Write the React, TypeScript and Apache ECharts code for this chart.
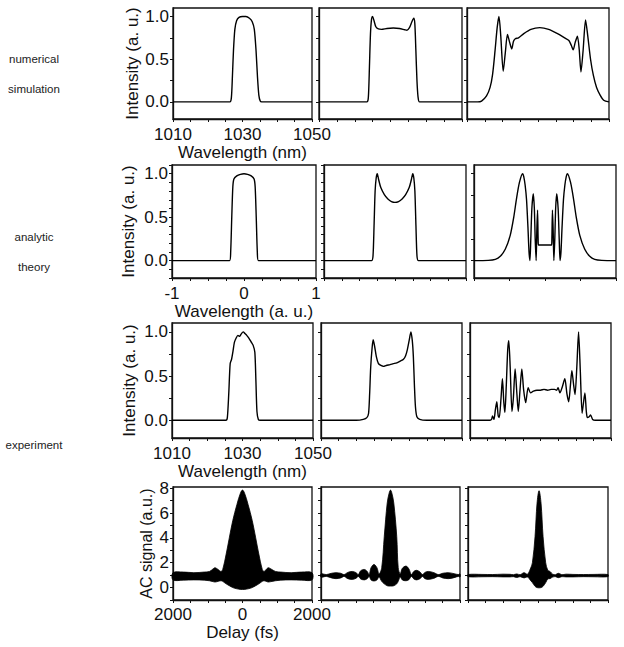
import React, { useEffect, useRef } from 'react';
import * as echarts from 'echarts';

// ---------- tick / label values ----------
const nmTicks = [1010, 1015, 1020, 1025, 1030, 1035, 1040, 1045, 1050];
const nmLabels = [1010, 1030, 1050];
const auTicksFine = [-1, -0.75, -0.5, -0.25, 0, 0.25, 0.5, 0.75, 1];
const auTicksCoarse = [-1, -0.5, 0, 0.5, 1];
const auLabels = [-1, 0, 1];
const delayTicks = [-2000, -1500, -1000, -500, 0, 500, 1000, 1500, 2000];
const delayLabels = [-2000, 0, 2000];
const intTicksQuarter = [0, 0.25, 0.5, 0.75, 1];
const intTicksTenth = [-0.2, -0.1, 0, 0.1, 0.2, 0.3, 0.4, 0.5, 0.6, 0.7, 0.8, 0.9, 1.0, 1.1];
const intLabels = [0, 0.5, 1];
const acTicks = [-1, 0, 1, 2, 3, 4, 5, 6, 7, 8];
const acLabels = [0, 2, 4, 6, 8];

const rowLabels = [
  { text: 'numerical', y: 59 },
  { text: 'simulation', y: 89 },
  { text: 'analytic', y: 237 },
  { text: 'theory', y: 267 },
  { text: 'experiment', y: 445 },
];

// ---------- spectra: [wavelength, intensity] ----------
const simSpec1 = [
  [1010, 0], [1024, 0], [1026.4, 0], [1026.8, 0.05], [1027.1, 0.3], [1027.4, 0.6], [1027.8, 0.85],
  [1028.3, 0.95], [1029, 0.99], [1030, 1.0], [1031, 1.0], [1032, 0.98], [1032.8, 0.94], [1033.4, 0.85],
  [1033.9, 0.6], [1034.3, 0.3], [1034.7, 0.08], [1035.1, 0.01], [1035.5, 0], [1037, 0], [1050, 0],
];
const simSpec2 = [
  [1010, 0], [1022, 0], [1023.4, 0], [1023.8, 0.05], [1024.1, 0.4], [1024.4, 0.8], [1024.7, 0.97],
  [1025.0, 1.0], [1025.4, 0.95], [1025.9, 0.88], [1026.6, 0.855], [1027.5, 0.85], [1029, 0.86],
  [1030.8, 0.865], [1032.5, 0.86], [1034, 0.845], [1034.6, 0.84], [1035.3, 0.87], [1035.9, 0.93],
  [1036.5, 0.98], [1036.8, 0.92], [1037.1, 0.6], [1037.4, 0.25], [1037.7, 0.06], [1038.1, 0],
  [1040, 0], [1050, 0],
];
const simSpec3 = [
  [1010, 0], [1013, 0], [1014.1, 0.01], [1015.5, 0.07], [1016.5, 0.17], [1017.2, 0.32], [1017.9, 0.6],
  [1018.5, 0.87], [1019.0, 1.0], [1019.5, 0.78], [1020.2, 0.36], [1020.8, 0.58], [1021.4, 0.79],
  [1022.0, 0.7], [1022.6, 0.62], [1023.1, 0.71], [1023.6, 0.74], [1024.5, 0.75], [1026, 0.8],
  [1028, 0.85], [1030.5, 0.87], [1033, 0.85], [1035.5, 0.8], [1037.5, 0.75], [1038.7, 0.72],
  [1039.4, 0.66], [1039.9, 0.61], [1040.5, 0.7], [1041.1, 0.77], [1041.6, 0.62], [1042.1, 0.35],
  [1042.7, 0.6], [1043.4, 0.96], [1044.0, 0.78], [1044.8, 0.5], [1045.6, 0.31], [1046.5, 0.17],
  [1047.5, 0.08], [1048.5, 0.02], [1050, 0],
];
const anaSpec1 = [
  [-1, 0], [-0.3, 0], [-0.2, 0], [-0.185, 0.1], [-0.17, 0.5], [-0.155, 0.85], [-0.14, 0.94],
  [-0.1, 0.975], [-0.05, 0.993], [0, 1.0], [0.05, 0.993], [0.1, 0.975], [0.14, 0.94],
  [0.155, 0.85], [0.17, 0.5], [0.185, 0.1], [0.2, 0], [0.3, 0], [1, 0],
];
const anaSpec2 = [
  [-1, 0], [-0.4, 0], [-0.33, 0], [-0.31, 0.05], [-0.295, 0.4], [-0.28, 0.8], [-0.265, 0.95],
  [-0.25, 1.0], [-0.23, 0.93], [-0.2, 0.84], [-0.15, 0.76], [-0.1, 0.71], [-0.05, 0.68], [0, 0.67],
  [0.05, 0.68], [0.1, 0.71], [0.15, 0.76], [0.2, 0.84], [0.23, 0.93], [0.25, 1.0], [0.265, 0.95],
  [0.28, 0.8], [0.295, 0.4], [0.31, 0.05], [0.33, 0], [0.4, 0], [1, 0],
];
const anaSpec3 = [
  [-1, 0], [-0.8, 0.003], [-0.7, 0.015], [-0.63, 0.05], [-0.56, 0.13], [-0.49, 0.29], [-0.44, 0.5],
  [-0.4, 0.72], [-0.36, 0.9], [-0.315, 1.0], [-0.3, 0.97], [-0.28, 0.87], [-0.26, 0.7], [-0.24, 0.38],
  [-0.225, 0.1], [-0.212, 0], [-0.2, 0.25], [-0.185, 0.6], [-0.165, 0.77], [-0.15, 0.6],
  [-0.138, 0.25], [-0.125, 0], [-0.115, 0.35], [-0.105, 0.58], [-0.097, 0.25], [-0.092, 0.18],
  [0, 0.18],
  [0.092, 0.18], [0.097, 0.25], [0.105, 0.58], [0.115, 0.35], [0.125, 0], [0.138, 0.25],
  [0.15, 0.6], [0.165, 0.77], [0.185, 0.6], [0.2, 0.25], [0.212, 0], [0.225, 0.1], [0.24, 0.38],
  [0.26, 0.7], [0.28, 0.87], [0.3, 0.97], [0.315, 1.0], [0.36, 0.9], [0.4, 0.72], [0.44, 0.5],
  [0.49, 0.29], [0.56, 0.13], [0.63, 0.05], [0.7, 0.015], [0.8, 0.003], [1, 0],
];
const expSpec1 = [
  [1010, 0], [1024, 0], [1025.3, 0], [1025.7, 0.03], [1026.1, 0.3], [1026.5, 0.64], [1026.9, 0.69],
  [1027.3, 0.78], [1027.7, 0.88], [1028.2, 0.93], [1028.7, 0.96], [1029.2, 0.95], [1029.7, 0.98],
  [1030.2, 1.0], [1030.7, 0.98], [1031.2, 0.96], [1031.8, 0.93], [1032.4, 0.89], [1033.0, 0.85],
  [1033.5, 0.77], [1033.8, 0.45], [1034.1, 0.1], [1034.5, 0.01], [1035, 0], [1037, 0], [1050, 0],
];
const expSpec2 = [
  [1010, 0], [1020, 0], [1022, 0.01], [1023.0, 0.03], [1023.5, 0.08], [1023.8, 0.3], [1024.1, 0.6],
  [1024.5, 0.82], [1024.8, 0.91], [1025.2, 0.84], [1025.7, 0.72], [1026.3, 0.64], [1027.0, 0.62],
  [1027.7, 0.61], [1028.5, 0.62], [1029.6, 0.63], [1030.5, 0.64], [1031.5, 0.65], [1032.5, 0.67],
  [1033.4, 0.69], [1034.0, 0.73], [1034.5, 0.8], [1035.0, 0.9], [1035.5, 1.0], [1035.9, 0.9],
  [1036.2, 0.72], [1036.5, 0.4], [1036.8, 0.15], [1037.2, 0.04], [1038, 0.01], [1040, 0], [1050, 0],
];
const expSpec3 = [
  [1010, 0], [1015.5, 0], [1016.1, 0.01], [1016.4, 0.05], [1016.8, 0.01], [1017.2, 0.12],
  [1017.6, 0.21], [1018.0, 0.05], [1018.3, 0.03], [1018.8, 0.25], [1019.2, 0.47], [1019.6, 0.2],
  [1019.9, 0.09], [1020.3, 0.4], [1020.7, 0.8], [1021.0, 0.9], [1021.4, 0.6], [1021.9, 0.1],
  [1022.3, 0.25], [1022.8, 0.58], [1023.3, 0.3], [1023.7, 0.1], [1024.2, 0.35], [1024.7, 0.58],
  [1025.2, 0.35], [1025.8, 0.2], [1026.5, 0.37], [1027.2, 0.31], [1028, 0.33], [1029, 0.34],
  [1030, 0.34], [1031, 0.35], [1032, 0.34], [1033, 0.35], [1034, 0.35], [1034.6, 0.34],
  [1035.0, 0.37], [1035.5, 0.31], [1036.2, 0.38], [1036.9, 0.47], [1037.5, 0.3], [1038.0, 0.21],
  [1038.5, 0.4], [1038.9, 0.56], [1039.4, 0.4], [1039.8, 0.29], [1040.3, 0.6], [1040.8, 1.0],
  [1041.3, 0.55], [1041.8, 0.08], [1042.2, 0.2], [1042.6, 0.31], [1043.0, 0.1], [1043.3, 0.03],
  [1043.8, 0.04], [1044.2, 0.06], [1044.8, 0.01], [1045.5, 0], [1050, 0],
];

// ---------- autocorrelation envelopes (delay fs, upper / lower edge of the fringe band) ----------
const ac1Delay = [-2000, -1700, -1400, -1100, -950, -850, -790, -700, -620, -570, -470, -380, -280, -160, -60, 0, 60, 160, 280, 380, 470, 570, 620, 680, 740, 820, 950, 1100, 1400, 1700, 2000];
const ac1Upper = [1.2, 1.25, 1.2, 1.25, 1.3, 1.5, 1.6, 1.45, 1.3, 1.45, 2.7, 4.0, 5.4, 6.7, 7.6, 7.85, 7.6, 6.7, 5.4, 4.0, 2.7, 1.45, 1.3, 1.45, 1.6, 1.5, 1.3, 1.25, 1.2, 1.25, 1.2];
const ac1Lower = [0.62, 0.6, 0.62, 0.6, 0.55, 0.48, 0.45, 0.5, 0.55, 0.5, 0.3, 0.15, 0.0, -0.1, -0.15, -0.15, -0.15, -0.1, 0.0, 0.15, 0.3, 0.5, 0.55, 0.5, 0.45, 0.48, 0.55, 0.6, 0.62, 0.6, 0.62];

const ac2Delay = [-2000, -1840, -1700, -1568, -1430, -1334, -1230, -1099, -990, -926, -860, -753, -670, -614, -560, -475, -390, -330, -253, -180, -95, -40, 0, 40, 95, 180, 222, 280, 340, 446, 530, 600, 670, 754, 850, 921, 990, 1088, 1250, 1375, 1500, 1663, 1830, 1950, 2000];
const ac2Upper = [1.1, 1.05, 1.15, 1.2, 1.15, 1.05, 1.22, 1.3, 1.2, 1.05, 1.35, 1.46, 1.3, 1.05, 1.6, 1.86, 1.6, 1.1, 1.6, 4.1, 6.8, 7.6, 7.85, 7.6, 6.8, 4.1, 1.6, 1.1, 1.55, 1.73, 1.5, 1.05, 1.3, 1.39, 1.25, 1.05, 1.22, 1.3, 1.2, 1.05, 1.15, 1.2, 1.12, 1.05, 1.1];
const ac2Lower = [0.85, 0.9, 0.78, 0.72, 0.78, 0.9, 0.72, 0.66, 0.75, 0.9, 0.7, 0.62, 0.72, 0.9, 0.62, 0.53, 0.62, 0.85, 0.5, 0.3, 0.15, 0.12, 0.12, 0.12, 0.15, 0.3, 0.5, 0.85, 0.62, 0.55, 0.64, 0.9, 0.7, 0.62, 0.72, 0.9, 0.72, 0.66, 0.75, 0.9, 0.78, 0.72, 0.8, 0.9, 0.85];

const ac3Delay = [-2000, -1600, -1300, -1000, -800, -700, -609, -510, -400, -300, -220, -160, -85, -27, 30, 87, 145, 220, 280, 343, 420, 500, 581, 680, 800, 1000, 1300, 1600, 2000];
const ac3Upper = [1.05, 1.06, 1.05, 1.08, 1.07, 1.04, 1.1, 1.04, 1.2, 1.08, 1.5, 2.0, 4.1, 6.8, 7.8, 6.8, 4.1, 2.0, 1.4, 1.3, 1.08, 1.04, 1.15, 1.04, 1.08, 1.06, 1.05, 1.06, 1.05];
const ac3Lower = [0.88, 0.87, 0.88, 0.86, 0.86, 0.88, 0.82, 0.88, 0.78, 0.85, 0.6, 0.4, 0.1, 0.0, -0.02, 0.0, 0.1, 0.4, 0.7, 0.72, 0.85, 0.88, 0.8, 0.88, 0.86, 0.86, 0.88, 0.87, 0.88];

// ---------- layout ----------
const FONT = '"Liberation Sans", Arial, sans-serif';
const gridBoxes = [
  [173, 8, 139, 111], [319, 8, 143, 111], [467, 8, 142, 111],
  [172, 165, 144, 113], [324, 165, 142, 113], [474, 165, 142, 113],
  [172, 323, 141, 115], [321, 323, 141, 115], [470, 323, 141, 115],
  [173, 487, 139, 113], [321, 487, 139, 113], [468, 487, 140, 113],
];

type Panel = {
  kind: 'line' | 'band';
  data?: number[][];
  band?: [number[], number[], number[]];
  x: 'nm' | 'auFine' | 'auCoarse' | 'delay';
  y: 'quarter' | 'tenth' | 'ac';
};

const panels: Panel[] = [
  { kind: 'line', data: simSpec1, x: 'nm', y: 'quarter' },
  { kind: 'line', data: simSpec2, x: 'nm', y: 'quarter' },
  { kind: 'line', data: simSpec3, x: 'nm', y: 'quarter' },
  { kind: 'line', data: anaSpec1, x: 'auFine', y: 'tenth' },
  { kind: 'line', data: anaSpec2, x: 'auFine', y: 'tenth' },
  { kind: 'line', data: anaSpec3, x: 'auCoarse', y: 'quarter' },
  { kind: 'line', data: expSpec1, x: 'nm', y: 'quarter' },
  { kind: 'line', data: expSpec2, x: 'nm', y: 'quarter' },
  { kind: 'line', data: expSpec3, x: 'nm', y: 'quarter' },
  { kind: 'band', band: [ac1Delay, ac1Upper, ac1Lower], x: 'delay', y: 'ac' },
  { kind: 'band', band: [ac2Delay, ac2Upper, ac2Lower], x: 'delay', y: 'ac' },
  { kind: 'band', band: [ac3Delay, ac3Upper, ac3Lower], x: 'delay', y: 'ac' },
];

const xNames = ['Wavelength (nm)', 'Wavelength (a. u.)', 'Wavelength (nm)', 'Delay (fs)'];
const yNames = ['Intensity (a. u.)', 'Intensity (a. u.)', 'Intensity (a. u.)', 'AC signal (a.u.)'];
const yNameGaps = [32, 35, 34, 19];
const yNameSizes = [17, 17, 17, 16];
const xLabelMargins = [8, 8, 8, 7];
const xNameGaps = [26, 26, 26, 25];

function buildOption() {
  const grid: any[] = [];
  const xAxis: any[] = [];
  const yAxis: any[] = [];
  const series: any[] = [];

  panels.forEach((p, i) => {
    const row = Math.floor(i / 3);
    const col = i % 3;
    const [l, t, w, h] = gridBoxes[i];
    grid.push({
      left: l, top: t, width: w, height: h, show: true,
      borderColor: '#111', borderWidth: 1.3, backgroundColor: 'transparent',
      containLabel: false, outerBoundsMode: 'none',
    });

    let xmin: number, xmax: number, xt: number[], xl: number[], xf: (v: number) => string;
    if (p.x === 'nm') { xmin = 1010; xmax = 1050; xt = nmTicks; xl = nmLabels; xf = (v) => String(v); }
    else if (p.x === 'auFine') { xmin = -1; xmax = 1; xt = auTicksFine; xl = auLabels; xf = (v) => String(v); }
    else if (p.x === 'auCoarse') { xmin = -1; xmax = 1; xt = auTicksCoarse; xl = auLabels; xf = (v) => String(v); }
    else { xmin = -2000; xmax = 2000; xt = delayTicks; xl = delayLabels; xf = (v) => String(Math.abs(v)); }

    let ymin: number, ymax: number, yt: number[], yl: number[], yf: (v: number) => string;
    if (p.y === 'quarter') { ymin = -0.2; ymax = 1.1; yt = intTicksQuarter; yl = intLabels; yf = (v) => v.toFixed(1); }
    else if (p.y === 'tenth') { ymin = -0.2; ymax = 1.1; yt = intTicksTenth; yl = intLabels; yf = (v) => v.toFixed(1); }
    else { ymin = -1; ymax = 8.1; yt = acTicks; yl = acLabels; yf = (v) => String(v); }

    const first = col === 0;
    xAxis.push({
      type: 'value', gridIndex: i, min: xmin, max: xmax,
      name: first ? xNames[row] : '', nameLocation: 'middle', nameGap: xNameGaps[row], nameMoveOverlap: false,
      nameTextStyle: { fontFamily: FONT, fontSize: 17, lineHeight: 14, color: '#111' },
      axisLine: { show: true, onZero: false, lineStyle: { color: '#111', width: 1.3 } },
      axisTick: { show: true, inside: false, length: 3, customValues: xt, lineStyle: { color: '#111', width: 1 } },
      axisLabel: {
        show: first, customValues: xl, formatter: xf, margin: xLabelMargins[row],
        fontFamily: FONT, fontSize: 17, lineHeight: 14, color: '#111', hideOverlap: false,
      },
      splitLine: { show: false },
    });
    yAxis.push({
      type: 'value', gridIndex: i, min: ymin, max: ymax,
      name: first ? yNames[row] : '', nameLocation: 'middle', nameGap: yNameGaps[row], nameMoveOverlap: false,
      nameTextStyle: { fontFamily: FONT, fontSize: yNameSizes[row], color: '#111' },
      axisLine: { show: true, onZero: false, lineStyle: { color: '#111', width: 1.3 } },
      axisTick: { show: true, inside: false, length: 3, customValues: yt, lineStyle: { color: '#111', width: 1 } },
      axisLabel: {
        show: first, customValues: yl, formatter: yf, margin: 4,
        fontFamily: FONT, fontSize: 17, color: '#111', hideOverlap: false,
      },
      splitLine: { show: false },
    });

    if (p.kind === 'line') {
      series.push({
        type: 'line', xAxisIndex: i, yAxisIndex: i, data: p.data, showSymbol: false, symbol: 'none',
        smooth: 0.25, lineStyle: { color: '#000', width: 1.4 }, silent: true,
      });
    } else {
      const [xs, up, lo] = p.band!;
      const rows = xs.map((x, k) => [x, up[k], lo[k]]);
      series.push({
        type: 'custom', xAxisIndex: i, yAxisIndex: i, data: rows, silent: true,
        encode: { x: 0, y: [1, 2] },
        renderItem: (params: any, api: any) => {
          if (params.dataIndex !== 0) return null;
          const pts: number[][] = [];
          for (let k = 0; k < xs.length; k++) pts.push(api.coord([xs[k], up[k]]));
          for (let k = xs.length - 1; k >= 0; k--) pts.push(api.coord([xs[k], lo[k]]));
          return {
            type: 'polygon',
            shape: { points: pts, smooth: 0.35 },
            style: { fill: '#000', stroke: '#000', lineWidth: 0.8 },
          };
        },
      });
    }
  });

  const graphic = rowLabels.map((r) => ({
    type: 'text', x: 34, y: r.y, silent: true,
    style: { text: r.text, align: 'center', verticalAlign: 'middle', fill: '#222', font: `11.5px ${FONT}` },
  }));

  return {
    animation: false,
    backgroundColor: '#fff',
    grid, xAxis, yAxis, series, graphic,
  };
}

export default function App() {
  const ref = useRef<HTMLDivElement>(null);
  useEffect(() => {
    const chart = echarts.init(ref.current!, null, { renderer: 'svg' });
    chart.setOption(buildOption() as any);
    return () => chart.dispose();
  }, []);
  return (
    <div
      ref={ref}
      style={{ position: 'fixed', left: 0, top: 0, width: 624, height: 647, background: '#fff' }}
    />
  );
}
